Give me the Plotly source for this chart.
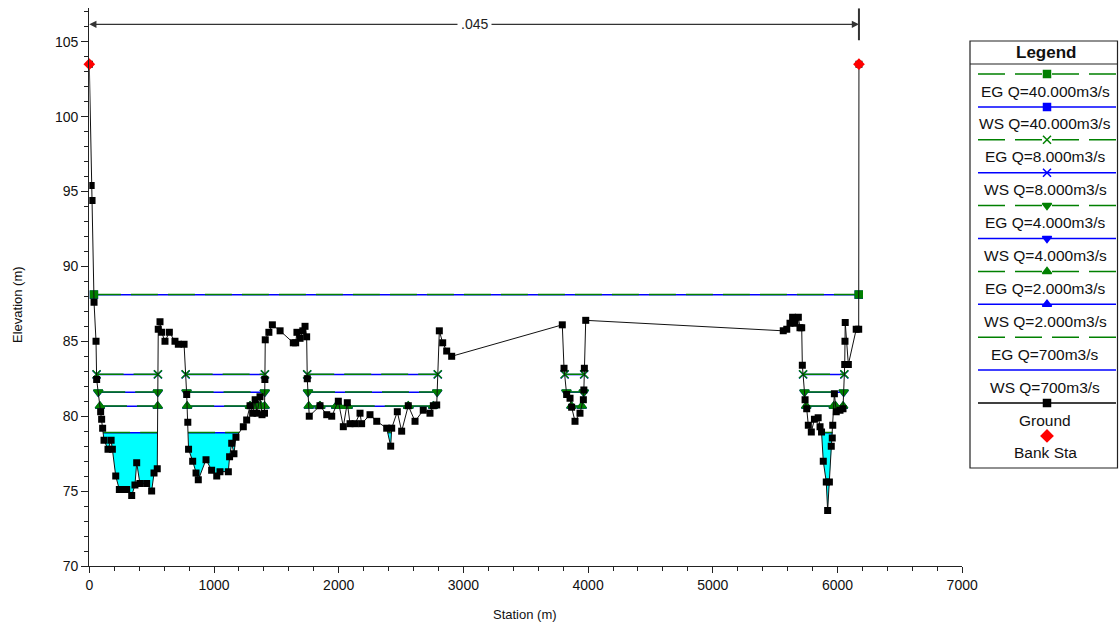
import plotly.graph_objects as go

W, H = 1119, 628
FONT = "Liberation Sans, Arial, sans-serif"

# ---------------- data ----------------
ground_sta = [0, 15, 22, 38, 54, 59, 91, 99, 107, 118, 150, 175, 185, 212, 241, 273, 300, 340, 366, 380,
              406, 460, 500, 519, 545, 553, 567, 580, 607, 642, 687, 714, 760, 781, 790, 796, 829, 856, 874, 936,
              981, 1022, 1048, 1115, 1125, 1142, 1160, 1176, 1235, 1262, 1289, 1310, 1330, 1345, 1369, 1385, 1405, 1408, 1411, 1440,
              1468, 1530, 1636, 1655, 1665, 1690, 1712, 1730, 1743, 1748, 1764, 1850, 1904, 1944, 1997, 2037, 2069, 2091, 2131, 2171,
              2184, 2251, 2305, 2385, 2417, 2425, 2470, 2505, 2558, 2612, 2678, 2732, 2759, 2786, 2807, 2834, 2866, 2906, 3793, 3807,
              3828, 3855, 3868, 3895, 3935, 3962, 3966, 3970, 3981, 5565, 5593, 5619, 5640, 5659, 5686, 5699, 5713, 5718, 5740, 5753,
              5766, 5790, 5815, 5845, 5860, 5872, 5886, 5910, 5921, 5935, 5950, 5958, 5962, 5975, 5990, 6020, 6044, 6058, 6060, 6062,
              6087, 6150, 6170, 6172]
ground_elev = [103.5, 95.4, 94.4, 87.6, 85.0, 82.45, 80.3, 79.8, 79.2, 78.4, 77.8, 78.4, 77.8, 76.0, 75.1, 75.1, 75.1, 74.7, 75.4, 76.9,
               75.5, 75.5, 75.0, 76.2, 76.5, 85.8, 86.3, 85.6, 85.0, 85.6, 85.0, 84.8, 84.8, 81.45, 79.6, 77.8, 77.0, 76.2, 75.75, 77.1,
               76.4, 76.0, 76.3, 76.3, 77.3, 78.2, 77.5, 78.6, 79.3, 79.75, 80.7, 80.2, 81.1, 80.2, 81.3, 80.1, 80.2, 82.45, 85.1, 85.6,
               86.1, 85.7, 84.9, 84.9, 85.6, 85.2, 85.7, 86.0, 85.3, 82.5, 80.0, 80.7, 80.1, 80.0, 81.0, 79.3, 80.9, 79.5, 79.5, 80.2,
               79.5, 80.1, 79.66, 79.2, 78.0, 79.2, 80.3, 79.0, 80.7, 79.66, 80.4, 80.2, 80.7, 80.75, 85.7, 84.9, 84.35, 84.0, 86.1, 83.2,
               81.45, 81.2, 80.6, 79.66, 80.2, 81.1, 81.75, 83.2, 86.4, 85.7, 85.8, 86.2, 86.6, 86.2, 86.6, 85.9, 85.9, 83.4, 81.1, 80.5,
               79.4, 78.95, 79.8, 79.9, 79.3, 78.95, 77.0, 75.6, 73.7, 75.6, 78.0, 78.55, 79.4, 81.5, 80.3, 80.4, 80.5, 83.45, 85.0, 86.25,
               83.45, 85.8, 85.8, 103.5]

bank_sta = [0, 6172]
bank_elev = [103.5, 103.5]

profile_q = ["40.000", "8.000", "4.000", "2.000", "700"]
ws_elev = [88.10, 82.78, 81.60, 80.66, 78.90]
eg_elev = [88.12, 82.80, 81.62, 80.68, 78.92]

manning_n = [".045"]

# ---------------- styles ----------------
GREEN = "#008000"
BLUE = "#0000FF"
CYAN = "#00FFFF"
EG_DASH = "27px,10px"
profile_symbols = ["square", "x-thin-open", "triangle-down", "triangle-up", None]
profile_msize = [7, 8, 8, 8, 0]


def wet_segments(level):
    segs = []
    cur = None
    for i in range(len(ground_sta) - 1):
        x0, y0 = ground_sta[i], ground_elev[i]
        x1, y1 = ground_sta[i + 1], ground_elev[i + 1]
        if cur is None:
            if y0 >= level and y1 < level:
                xs = x0 + (level - y0) / (y1 - y0) * (x1 - x0)
                cur = [(xs, level), (x1, y1)]
        else:
            if y1 < level:
                cur.append((x1, y1))
            else:
                xe = x0 + (level - y0) / (y1 - y0) * (x1 - x0)
                cur.append((xe, level))
                segs.append(cur)
                cur = None
    return segs


def level_xy(level):
    xs, ys = [], []
    for seg in wet_segments(level):
        xs += [seg[0][0], seg[-1][0], None]
        ys += [level, level, None]
    return xs, ys


fig = go.Figure()

# water fill for the lowest profile
for seg in wet_segments(ws_elev[-1]):
    fig.add_trace(go.Scatter(
        x=[p[0] for p in seg], y=[p[1] for p in seg], mode="lines", fill="toself",
        fillcolor=CYAN, line=dict(width=0, color=CYAN), showlegend=False, hoverinfo="skip"))

# WS lines (blue) then EG lines (green dashed) on top
for i, q in enumerate(profile_q):
    x, y = level_xy(ws_elev[i])
    sym = profile_symbols[i]
    kw = dict(mode="lines+markers", marker=dict(symbol=sym, size=profile_msize[i], color=BLUE,
                                                line=dict(width=1.5, color=BLUE))) if sym else dict(mode="lines")
    fig.add_trace(go.Scatter(x=x, y=y, line=dict(color=BLUE, width=1.5), name=f"WS Q={q}m3/s",
                             showlegend=False, **kw))
for i, q in enumerate(profile_q):
    x, y = level_xy(eg_elev[i])
    sym = profile_symbols[i]
    kw = dict(mode="lines+markers", marker=dict(symbol=sym, size=profile_msize[i], color=GREEN,
                                                line=dict(width=1.5, color=GREEN))) if sym else dict(mode="lines")
    fig.add_trace(go.Scatter(x=x, y=y, line=dict(color=GREEN, width=1.5, dash=EG_DASH), name=f"EG Q={q}m3/s",
                             showlegend=False, **kw))

# ground
fig.add_trace(go.Scatter(x=ground_sta, y=ground_elev, mode="lines+markers", name="Ground",
                         line=dict(color="#111111", width=1),
                         marker=dict(symbol="square", size=7, color="black"), showlegend=False))
# bank stations
fig.add_trace(go.Scatter(x=bank_sta, y=bank_elev, mode="markers", name="Bank Sta",
                         marker=dict(symbol="diamond", size=9, color="#FF0000"), showlegend=False,
                         cliponaxis=False))

# Manning's n bar
n_y = 106.16
mid = (bank_sta[0] + bank_sta[1]) / 2
for xe in bank_sta:
    fig.add_annotation(x=xe, y=n_y, ax=mid, ay=n_y, axref="x", ayref="y", xref="x", yref="y",
                       showarrow=True, arrowhead=2, arrowsize=1.1, arrowwidth=1.3, arrowcolor="#333333",
                       text="", standoff=0)
fig.add_annotation(x=mid, y=n_y, xref="x", yref="y", text=manning_n[0], showarrow=False,
                   xanchor="center", yanchor="middle",
                   bgcolor="white", borderpad=3, font=dict(family=FONT, size=14, color="#222"))
fig.add_shape(type="line", xref="x", yref="y", x0=bank_sta[1], x1=bank_sta[1], y0=105.1, y1=107.23,
              line=dict(color="#333333", width=2))

# ---------------- custom legend (pixel overlay axis) ----------------
legend_items = [
    ("EG Q=40.000m3/s", GREEN, EG_DASH, "square"),
    ("WS Q=40.000m3/s", BLUE, "solid", "square"),
    ("EG Q=8.000m3/s", GREEN, EG_DASH, "x-thin-open"),
    ("WS Q=8.000m3/s", BLUE, "solid", "x-thin-open"),
    ("EG Q=4.000m3/s", GREEN, EG_DASH, "triangle-down"),
    ("WS Q=4.000m3/s", BLUE, "solid", "triangle-down"),
    ("EG Q=2.000m3/s", GREEN, EG_DASH, "triangle-up"),
    ("WS Q=2.000m3/s", BLUE, "solid", "triangle-up"),
    ("EG Q=700m3/s", GREEN, EG_DASH, None),
    ("WS Q=700m3/s", BLUE, "solid", None),
    ("Ground", "black", "solid", "square"),
    ("Bank Sta", "#FF0000", None, "diamond"),
]
row0, row_h = 74, 32.9
lx0, lx1, lxc = 978, 1116, 1047


def px(x):
    return x / W


def py(y):
    return 1 - y / H


for k, (label, col, dash, sym) in enumerate(legend_items):
    ly = row0 + k * row_h
    if dash is not None:
        fig.add_trace(go.Scatter(x=[lx0, lx1], y=[ly, ly], xaxis="x2", yaxis="y2", mode="lines",
                                 line=dict(color=col, width=1.5, dash=dash), showlegend=False, hoverinfo="skip"))
    if sym:
        size = 9 if sym == "diamond" else (7 if sym == "square" else 8)
        fig.add_trace(go.Scatter(x=[lxc], y=[ly], xaxis="x2", yaxis="y2", mode="markers",
                                 marker=dict(symbol=sym, size=size, color=col, line=dict(width=1.5, color=col)),
                                 showlegend=False, hoverinfo="skip", cliponaxis=False))
    fig.add_annotation(x=px(lxc - 2), y=py(ly + 17), xref="paper", yref="paper", text=label, showarrow=False,
                       font=dict(family=FONT, size=15.5, color="#111"), xanchor="center", yanchor="middle")

fig.add_shape(type="rect", xref="paper", yref="paper", x0=px(970), x1=px(1117.5), y0=py(468), y1=py(41),
              line=dict(color="#222", width=1.2))
fig.add_shape(type="line", xref="paper", yref="paper", x0=px(970), x1=px(1117.5), y0=py(64), y1=py(64),
              line=dict(color="#222", width=1.2))
fig.add_annotation(x=px(1046), y=py(52.5), xref="paper", yref="paper", text="<b>Legend</b>", showarrow=False,
                   xanchor="center", yanchor="middle",
                   font=dict(family=FONT, size=17, color="#111"))

# axis titles
fig.add_annotation(x=px(18), y=py(305), xref="paper", yref="paper", text="Elevation (m)", textangle=-90,
                   xanchor="center", yanchor="middle",
                   showarrow=False, font=dict(family=FONT, size=13, color="#111"))
fig.add_annotation(x=px(525), y=py(614), xref="paper", yref="paper", text="Station (m)",
                   xanchor="center", yanchor="middle",
                   showarrow=False, font=dict(family=FONT, size=13, color="#111"))

fig.update_layout(
    width=W, height=H, margin=dict(l=0, r=0, t=0, b=0, autoexpand=False),
    paper_bgcolor="white", plot_bgcolor="rgba(0,0,0,0)",
    showlegend=False,
    font=dict(family=FONT, size=14, color="#111"),
    xaxis=dict(domain=[89.3 / W, 962.2 / W], range=[0, 7000], tick0=0, dtick=1000, automargin=False,
               showline=True, linecolor="#222", linewidth=1.2, ticks="outside", ticklen=6, tickcolor="#222",
               minor=dict(dtick=200, ticklen=4, ticks="outside", tickcolor="#222"),
               showgrid=False, zeroline=False, tickfont=dict(family=FONT, size=14, color="#111")),
    yaxis=dict(domain=[(H - 566) / H, (H - 8.3) / H], range=[70, 107.23], tick0=70, dtick=5, automargin=False,
               showline=True, linecolor="#222", linewidth=1.2, ticks="outside", ticklen=7, tickcolor="#222",
               minor=dict(dtick=1, ticklen=4, ticks="outside", tickcolor="#222"),
               showgrid=False, zeroline=False, tickfont=dict(family=FONT, size=14, color="#111")),
    xaxis2=dict(domain=[0, 1], range=[0, W], visible=False, anchor="y2", fixedrange=True, automargin=False),
    yaxis2=dict(domain=[0, 1], range=[H, 0], visible=False, anchor="x2", fixedrange=True, automargin=False),
)

fig.write_html("out.html", config={"displayModeBar": False},
               post_script="document.body.style.margin='0';document.body.style.padding='0';"
                           "document.body.style.overflow='hidden';")
